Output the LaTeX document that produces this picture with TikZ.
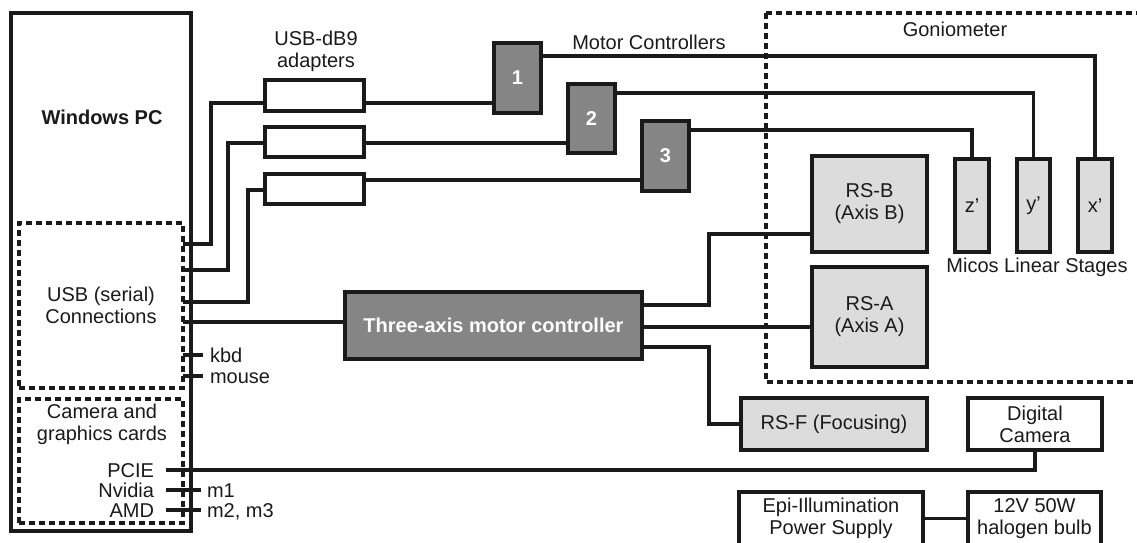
\documentclass[tikz,border=0pt]{standalone}
\usepackage{fontspec}
\setmainfont{Liberation Sans}
\definecolor{ink}{HTML}{1A1A1A}
\definecolor{darkfill}{HTML}{858585}
\definecolor{lightfill}{HTML}{DCDCDC}
\begin{document}
\begin{tikzpicture}[x=1pt,y=-1pt,
  every node/.style={font=\fontsize{20}{22}\selectfont, inner sep=0pt, outer sep=0pt, text=ink},
  plainbox/.style={draw=ink, line width=3.4pt, fill=white, align=center},
  darkbox/.style={draw=ink, line width=3.4pt, fill=darkfill, text=white, font=\fontsize{20}{22}\selectfont\bfseries},
  lightbox/.style={draw=ink, line width=3.4pt, fill=lightfill, align=center},
  dashbox/.style={draw=ink, line width=3.2pt, dash pattern=on 6pt off 4pt, align=center},
  wire/.style={draw=ink, line width=3.4pt},
  lbl/.style={text height=14pt, text depth=0pt},
  title/.style={align=center}
]
\useasboundingbox (0,0) rectangle (1137,543);
\clip (0,0) rectangle (1137,543);
% Windows PC
\node[draw=ink, line width=3.4pt, minimum width=180pt, minimum height=518pt] (pc) at (101,272) {};
\node[font=\fontsize{20}{22}\selectfont\bfseries] (pclabel) at (102,117) {Windows PC};
\node[dashbox, minimum width=164pt, minimum height=165pt] (usb) at (101,305.5) {USB (serial)\\Connections};
\node[dashbox, minimum width=164pt, minimum height=124pt] (cards) at (101,461) {};
\node[title] (cardslabel) at (102,424) {Camera and\\graphics cards};
\node[lbl, anchor=east] (pcie) at (154,470) {PCIE};
\node[lbl, anchor=east] (nvidia) at (154,490) {Nvidia};
\node[lbl, anchor=east] (amd) at (154,510) {AMD};
\node[lbl, anchor=west] (m1lbl) at (207,490) {m1};
\node[lbl, anchor=west] (m23lbl) at (207,510) {m2, m3};
\node[lbl, anchor=west] (kbd) at (210,355) {kbd};
\node[lbl, anchor=west] (mouse) at (210,376) {mouse};
\coordinate (nvA) at (166,490); \coordinate (nvB) at (201,490);
\coordinate (amA) at (166,510); \coordinate (amB) at (201,510);
\coordinate (kbA) at (183,355); \coordinate (kbB) at (203,355);
\coordinate (moA) at (183,376); \coordinate (moB) at (203,376);
\coordinate (pcieA) at (166,470);
% adapters
\node[title] (adlabel) at (316,51) {USB-dB9\\adapters};
\node[plainbox, minimum width=99pt, minimum height=31pt] (a1) at (314.5,95.5) {};
\node[plainbox, minimum width=99pt, minimum height=30pt] (a2) at (314.5,142) {};
\node[plainbox, minimum width=99pt, minimum height=30pt] (a3) at (314.5,189) {};
% motor controllers
\node (mclabel) at (649,42) {Motor Controllers};
\node[darkbox, minimum width=47pt, minimum height=70pt] (m1) at (517.5,78) {1};
\node[darkbox, minimum width=47pt, minimum height=69pt] (m2) at (591.5,118.5) {2};
\node[darkbox, minimum width=47pt, minimum height=70pt] (m3) at (665.5,156) {3};
% three-axis controller
\node[darkbox, minimum width=297pt, minimum height=67pt] (tc) at (493.5,325.5) {Three-axis motor controller};
% goniometer
\draw[ink, line width=3.2pt, dash pattern=on 6pt off 4pt] (766,13) rectangle (1150,382);
\node (gonio) at (955,29) {Goniometer};
\node[lightbox, minimum width=34pt, minimum height=93pt] (zs) at (972,205.5) {z’};
\node[lightbox, minimum width=33pt, minimum height=93pt] (ys) at (1033.5,205.5) {y’};
\node[lightbox, minimum width=34pt, minimum height=93pt] (xs) at (1095,205.5) {x’};
\node (micos) at (1037,267) {Micos Linear Stages};
\node[lightbox, minimum width=115pt, minimum height=96pt] (rsb) at (869.5,204) {RS-B\\(Axis B)};
\node[lightbox, minimum width=115pt, minimum height=100pt] (rsa) at (869.5,317) {RS-A\\(Axis A)};
\node[lightbox, minimum width=186pt, minimum height=52pt] (rsf) at (834,424) {RS-F (Focusing)};
\node[plainbox, minimum width=134pt, minimum height=52pt] (cam) at (1035,424) {Digital\\Camera};
\node[plainbox, minimum width=184pt, minimum height=53pt] (epi) at (831,518.5) {Epi-Illumination\\Power Supply};
\node[plainbox, minimum width=133pt, minimum height=53pt] (bulb) at (1034.5,518.5) {12V 50W\\halogen bulb};
% wires
\draw[wire] (usb.east |- 0,244) -| (211,103) -- (a1.west |- 0,103);
\draw[wire] (usb.east |- 0,270) -| (228,143) -- (a2.west |- 0,143);
\draw[wire] (usb.east |- 0,302) -| (248,190) -- (a3.west |- 0,190);
\draw[wire] (usb.east |- 0,322) -- (tc.west |- 0,322);
\draw[wire] (a1.east |- 0,103) -- (m1.west |- 0,103);
\draw[wire] (a2.east |- 0,143) -- (m2.west |- 0,143);
\draw[wire] (a3.east |- 0,180) -- (m3.west |- 0,180);
\draw[wire] (m1.east |- 0,56) -| (xs.north);
\draw[wire] (m2.east |- 0,93) -| (ys.north);
\draw[wire] (m3.east |- 0,130) -| (zs.north);
\draw[wire] (tc.east |- 0,305) -| (709,234) -- (rsb.west |- 0,234);
\draw[wire] (tc.east |- 0,327) -- (rsa.west |- 0,327);
\draw[wire] (tc.east |- 0,347) -| (709,424) -- (rsf.west);
\draw[wire] (pcieA) -| (cam.south);
\draw[wire] (nvA) -- (nvB);
\draw[wire] (amA) -- (amB);
\draw[wire] (kbA) -- (kbB);
\draw[wire] (moA) -- (moB);
\draw[wire] (epi.east) -- (bulb.west);
\end{tikzpicture}
\end{document}
